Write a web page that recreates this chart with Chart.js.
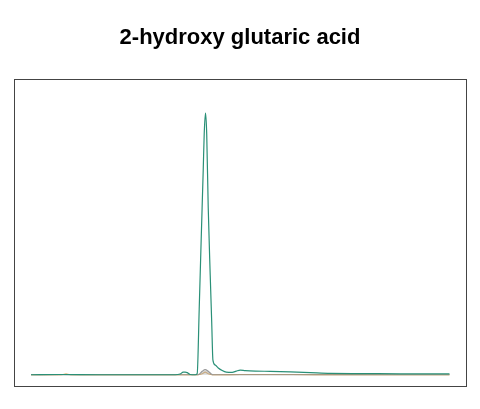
<!DOCTYPE html>
<html>
<head>
<meta charset="utf-8">
<script src="https://cdn.jsdelivr.net/npm/chart.js@4.4.0/dist/chart.umd.min.js"></script>
<style>
html,body{margin:0;padding:0;background:#fff;}
#wrap{width:480px;height:409px;}
</style>
</head>
<body>
<div id="wrap"><canvas id="c" width="480" height="409"></canvas></div>
<script>
const chartTitle = "2-hydroxy glutaric acid";
// scan positions and intensities (percent of the main peak)
const greenX = [17,46,86,136,161,166,169,171,173,176,181,183,185,187,189,190,191.3,192.5,194,196,197.5,198.7,201,204,208,212,218,222,226,231,241,256,276,296,316,346,386,416,435];
const greenY = [0,0.1,0,0,0,0.3,1.0,1.0,0.8,0.1,0,0.5,25,52,78,92,100,92,64,38,20,5.6,3.7,2.6,1.6,1.0,0.9,1.4,1.8,1.6,1.4,1.3,1.1,0.8,0.5,0.45,0.35,0.35,0.3];
const orangeX = [17,46,52,58,86,136,176,183,188,191,194,198,204,226,276,316,386,435];
const orangeY = [0,0,0.2,0,0,0,0,0,0.4,1.0,0.4,0,0,0.1,0.1,0.05,0,0];
const greyX = [17,86,136,176,183,185,188,191,194,197,199,226,276,386,435];
const greyY = [0,0,0,0,0,0.2,1.3,2.0,1.3,0.3,0,0,0,0,0];

const toXY = (xs, ys) => xs.map((x, i) => ({x: x, y: ys[i]}));

const framePlugin = {
  id: 'frame',
  afterDraw(chart) {
    const a = chart.chartArea, ctx = chart.ctx;
    ctx.save();
    ctx.strokeStyle = '#444444';
    ctx.lineWidth = 1;
    ctx.strokeRect(Math.round(a.left) + 0.5, Math.round(a.top) + 0.5, Math.round(a.right - a.left), Math.round(a.bottom - a.top));
    ctx.restore();
  }
};

new Chart(document.getElementById('c'), {
  type: 'line',
  data: {
    datasets: [
      {data: toXY(orangeX, orangeY), borderColor: '#d9922e', borderWidth: 1.2, order: 3},
      {data: toXY(greyX, greyY), borderColor: '#999999', backgroundColor: 'rgba(190,190,190,0.6)', fill: 'origin', borderWidth: 1.2, order: 2},
      {data: toXY(greenX, greenY), borderColor: '#2a9077', borderWidth: 1.2, order: 1}
    ]
  },
  options: {
    responsive: false,
    animation: false,
    devicePixelRatio: 1,
    elements: {point: {radius: 0}, line: {cubicInterpolationMode: 'monotone'}},
    layout: {padding: {left: 14, right: 14, top: 0, bottom: 23}},
    plugins: {
      legend: {display: false},
      tooltip: {enabled: false},
      title: {
        display: true,
        text: chartTitle,
        color: '#000',
        font: {family: 'Liberation Sans', size: 22, weight: 'bold', lineHeight: 1.2},
        padding: {top: 25, bottom: 27.6}
      }
    },
    scales: {
      x: {type: 'linear', min: 0, max: 451.5, display: false},
      y: {min: -4.3, max: 113, display: false}
    }
  },
  plugins: [framePlugin]
});
</script>
</body>
</html>
